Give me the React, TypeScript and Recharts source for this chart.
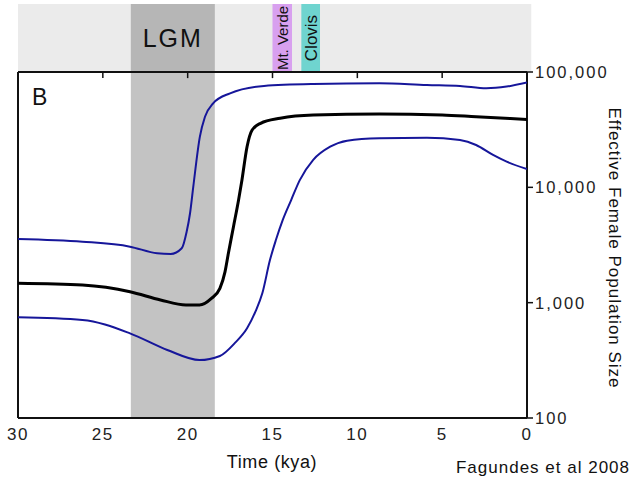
import { LineChart, Line, XAxis, YAxis, ReferenceArea, ReferenceLine } from "recharts";

// Time axis (thousand years ago) and population size on a log scale
const kyaTicks = [30, 25, 20, 15, 10, 5, 0];
const popTicks = [100, 1000, 10000, 100000];
const innerTicks = [25, 20, 15, 10, 5];

// Median curve (black)
const medianKya = [30, 26.2, 23.4, 21.6, 20.1, 19.3, 18.6, 18.1, 17.8, 17.6, 17.3, 17.0, 16.8, 16.5, 16.2, 15.7, 14.55, 12.6, 8.7, 5, 3, 0];
const medianNe = [1470, 1420, 1245, 1055, 955, 955, 1090, 1330, 1850, 2680, 4560, 7770, 11600, 22500, 31400, 35900, 39700, 42400, 43200, 42400, 40900, 38800];

// Upper 95% bound (blue)
const upperKya = [30, 26.2, 23.4, 21.8, 21.0, 20.35, 20.06, 19.86, 19.67, 19.28, 18.98, 18.5, 17.5, 15.5, 12.6, 8.7, 5.9, 3.95, 2.4, 1.2, 0];
const upperNe = [3570, 3380, 3060, 2680, 2640, 2960, 4120, 5960, 10100, 27500, 40900, 53500, 65300, 75700, 78700, 79800, 77100, 75700, 72300, 74700, 81000];

// Lower 95% bound (blue)
const lowerKya = [30, 26.2, 23.4, 21.2, 19.3, 18.1, 17.2, 16.5, 16.0, 15.6, 15.15, 14.8, 14.4, 13.9, 13.4, 12.6, 11.6, 10.6, 8.7, 5.9, 3.95, 3.0, 2.0, 1.2, 0];
const lowerNe = [746, 708, 542, 389, 318, 345, 450, 600, 840, 1205, 2340, 3490, 5200, 7760, 11500, 17300, 22500, 25400, 26600, 26900, 25700, 23300, 19100, 16700, 14400];

// Shaded periods
const lgm = [23.35, 18.4];
const mtVerde = [15.0, 13.85];
const clovis = [13.3, 12.2];

const toRows = (xs: number[], ys: number[]) => xs.map((kya, i) => ({ kya, ne: ys[i] }));

const median = toRows(medianKya, medianNe);
const upper = toRows(upperKya, upperNe);
const lower = toRows(lowerKya, lowerNe);

const TOP = 388700; // top of the header strip, above 100,000
const FONT = "'Liberation Sans', Arial, sans-serif";
const BLUE = "#16169a";

const fmt = (v: number) => v.toLocaleString("en-US");

export default function App() {
  return (
    <div style={{ position: "absolute", left: 0, top: 0, width: 638, height: 477, background: "#fff", fontFamily: FONT }}>
      <LineChart width={638} height={477} margin={{ top: 4, right: 0, left: 18, bottom: 29 }}>
        {/* header strip */}
        <ReferenceArea x1={30} x2={-0.25} y1={100000} y2={TOP} fill="#ebebeb" fillOpacity={1} stroke="none" ifOverflow="visible" />
        <ReferenceArea
          x1={lgm[0]} x2={lgm[1]} y1={100000} y2={TOP}
          fill="#b6b6b6" fillOpacity={1} stroke="none"
          label={{ value: "LGM", position: "center", fontSize: 25, letterSpacing: 2, fill: "#111", fontFamily: FONT }}
        />
        <ReferenceArea x1={lgm[0]} x2={lgm[1]} y1={100} y2={100000} fill="#c3c3c3" fillOpacity={1} stroke="none" />
        <ReferenceArea
          x1={mtVerde[0]} x2={mtVerde[1]} y1={100000} y2={TOP}
          fill="#d8a0ef" fillOpacity={1} stroke="none"
          label={{ value: "Mt. Verde", position: "center", angle: -90, fontSize: 15, fill: "#111", fontFamily: FONT }}
        />
        <ReferenceArea
          x1={clovis[0]} x2={clovis[1]} y1={100000} y2={TOP}
          fill="#6fd4cf" fillOpacity={1} stroke="none"
          label={{ value: "Clovis", position: "center", angle: -90, fontSize: 17, fill: "#111", fontFamily: FONT }}
        />

        <XAxis
          dataKey="kya"
          type="number"
          domain={[0, 30]}
          reversed
          ticks={kyaTicks}
          tickLine={false}
          tickMargin={4}
          height={30}
          axisLine={{ stroke: "#111", strokeWidth: 2 }}
          tick={{ fill: "#222", fontSize: 17, letterSpacing: 1.5, fontFamily: FONT }}
          allowDataOverflow
        />
        <YAxis
          orientation="right"
          type="number"
          scale="log"
          domain={[100, TOP]}
          ticks={popTicks}
          tickFormatter={fmt}
          allowDataOverflow
          width={111}
          axisLine={false}
          tickLine={{ stroke: "#111", strokeWidth: 1.5 }}
          tickSize={6}
          tickMargin={2}
          tick={{ fill: "#222", fontSize: 16.5, letterSpacing: 2, fontFamily: FONT, textAnchor: "start" }}
        />

        {/* frame of the plot */}
        <ReferenceLine y={100000} stroke="#111" strokeWidth={2} />
        <ReferenceLine segment={[{ x: 30, y: 100 }, { x: 30, y: 100000 }]} stroke="#111" strokeWidth={2} />
        <ReferenceLine segment={[{ x: 0, y: 100 }, { x: 0, y: 100000 }]} stroke="#111" strokeWidth={2} />
        {innerTicks.map((k) => (
          <ReferenceLine key={k} segment={[{ x: k, y: 100000 }, { x: k, y: 88500 }]} stroke="#111" strokeWidth={1.5} />
        ))}

        <Line data={upper} dataKey="ne" type="monotone" stroke={BLUE} strokeWidth={2} dot={false} isAnimationActive={false} />
        <Line data={lower} dataKey="ne" type="monotone" stroke={BLUE} strokeWidth={2} dot={false} isAnimationActive={false} />
        <Line data={median} dataKey="ne" type="monotone" stroke="#000" strokeWidth={3} dot={false} isAnimationActive={false} />
      </LineChart>

      {/* titles and notes */}
      <svg width={638} height={477} style={{ position: "absolute", left: 0, top: 0, pointerEvents: "none" }}>
        <text x={32} y={105} fontSize={23} fill="#111" fontFamily={FONT}>B</text>
        <text x={272} y={468} fontSize={18} letterSpacing={0.6} fill="#111" fontFamily={FONT} textAnchor="middle">Time (kya)</text>
        <text x={630} y={473} fontSize={17} letterSpacing={1} fill="#111" fontFamily={FONT} textAnchor="end">Fagundes et al 2008</text>
        <text
          x={614}
          y={248}
          fontSize={17}
          letterSpacing={1}
          fill="#111"
          fontFamily={FONT}
          textAnchor="middle"
          dominantBaseline="central"
          transform="rotate(90 614 248)"
        >
          Effective Female Population Size
        </text>
      </svg>
    </div>
  );
}
